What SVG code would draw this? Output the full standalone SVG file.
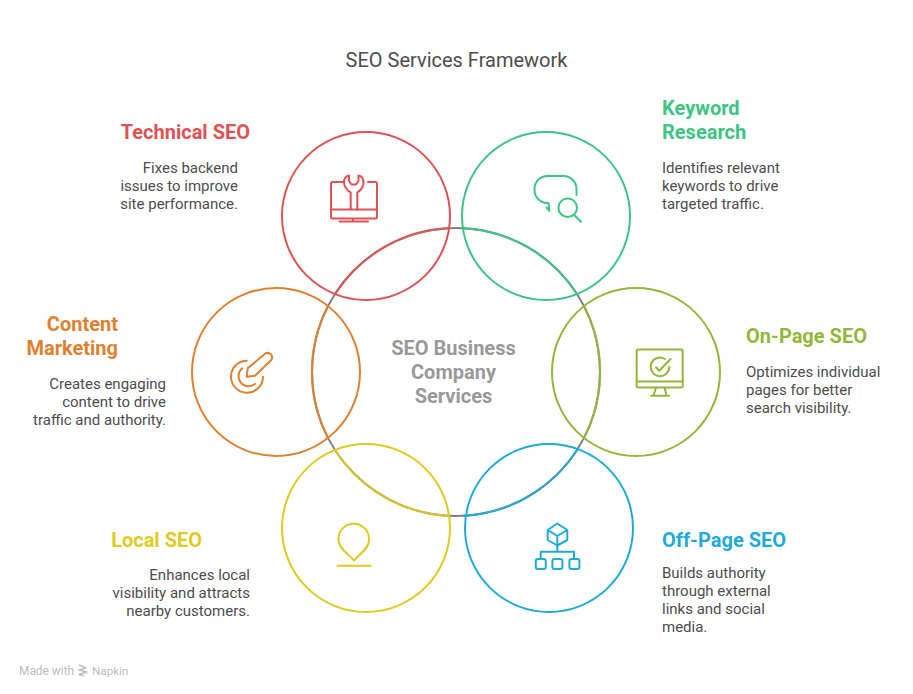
<svg xmlns="http://www.w3.org/2000/svg" width="913" height="694" viewBox="0 0 913 694">
<style>
text{font-family:Roboto,"Liberation Sans",sans-serif}
.t{font-size:20px;font-weight:700}
.b{font-size:15px;fill:#4d4d4d}
.r{text-anchor:end}
.c{fill:none;stroke-width:2}
.i{fill:none;stroke-width:2;stroke-linecap:round;stroke-linejoin:round}
.a{fill:none;stroke-width:2.2;stroke-opacity:.88}
.m{font-size:20px;font-weight:700;fill:#999;text-anchor:middle}
</style>
<rect width="913" height="694" fill="#fff"/>
<text x="456.500" y="67" font-size="20" fill="#4d4d4d" text-anchor="middle">SEO Services Framework</text>
<g id="connectors">
<circle cx="456" cy="372" r="144" fill="none" stroke="#808080" stroke-width="2"/>
<path class="a" stroke="#e05252" d="M335 294A144 144 0 0 1 449 228.200"/>
<path class="a" stroke="#3cc583" d="M463 228.200A144 144 0 0 1 577 294"/>
<path class="a" stroke="#93b73a" d="M584.100 306.200A144 144 0 0 1 584.100 437.800"/>
<path class="a" stroke="#1eabda" d="M577 450A144 144 0 0 1 463 515.800"/>
<path class="a" stroke="#decb1f" d="M449 515.800A144 144 0 0 1 335 450"/>
<path class="a" stroke="#e0812f" d="M327.900 437.800A144 144 0 0 1 327.900 306.200"/>
</g>
<g id="technical-seo">
<circle class="c" cx="366" cy="216" r="84" stroke="#e05252"/>
<g class="i" stroke="#e05252"><path d="M344 182H332.500a1.500 1.500 0 0 0-1.500 1.500V217a1.500 1.500 0 0 0 1.500 1.500H375.500a1.500 1.500 0 0 0 1.500-1.500V183.500A1.500 1.500 0 0 0 375.500 182H368M331 209.500H377M353 218.500V221.500M339.500 221.500H368"/><path d="M350.700 209.500V192.500C346 190 343.500 185 344 181C344.500 178 346 176 349 175.500V181L351.500 184.500H356L358.500 181V175.500C361.500 176 363 178 363.500 181C364 185 362 190 357.300 192.500V209.500"/></g>
<text class="t r" x="250" y="139" fill="#e05252">Technical SEO</text>
<text class="b r" x="238" y="173">Fixes backend</text><text class="b r" x="238" y="191">issues to improve</text><text class="b r" x="238" y="209">site performance.</text>
</g>
<g id="keyword-research">
<circle class="c" cx="546" cy="216" r="84" stroke="#3cc583"/>
<g class="i" stroke="#3cc583"><path d="M576.500 195V189A13 13 0 0 0 563.500 176H547.500A13 13 0 0 0 534.500 189V190A13 13 0 0 0 547.500 203H548.500L549.300 211L546.500 207.500"/><circle cx="567.700" cy="207.700" r="9.300"/><path d="M574 215L581 221.700"/></g>
<text class="t" x="662" y="115" fill="#3cc583">Keyword</text><text class="t" x="662" y="139" fill="#3cc583">Research</text>
<text class="b" x="662" y="173">Identifies relevant</text><text class="b" x="662" y="191">keywords to drive</text><text class="b" x="662" y="209">targeted traffic.</text>
</g>
<g id="on-page-seo">
<circle class="c" cx="636" cy="372" r="84" stroke="#93b73a"/>
<g class="i" stroke="#93b73a"><rect x="636.700" y="349.500" width="46" height="38" rx="1.500"/><path d="M636.700 381.500H682.700M656 387.500L653.500 395.700M664.500 387.500L666.500 395.700M651 395.700H669"/><path d="M669.300 366.700A9.300 9.300 0 1 1 665 359"/><path d="M656 367.300L659.300 370.700L670.700 359"/></g>
<text class="t" x="746" y="343" fill="#93b73a">On-Page SEO</text>
<text class="b" x="746" y="377">Optimizes individual</text><text class="b" x="746" y="395">pages for better</text><text class="b" x="746" y="413">search visibility.</text>
</g>
<g id="off-page-seo">
<circle class="c" cx="549" cy="528" r="84" stroke="#1eabda"/>
<g class="i" stroke="#1eabda"><path d="M557.300 523.500L567.300 530V540L557.300 545.500L547.700 540V530ZM547.700 530L557.300 536L567.300 530M557.300 536V545.500M557.300 545.500V551.700M540.700 558V551.700H574V558"/><rect x="535.800" y="559" width="10" height="10" rx="2"/><rect x="552.400" y="559" width="10" height="10" rx="2"/><rect x="569.400" y="559" width="10" height="10" rx="2"/></g>
<text class="t" x="662" y="547" fill="#1eabda">Off-Page SEO</text>
<text class="b" x="662" y="578">Builds authority</text><text class="b" x="662" y="596">through external</text><text class="b" x="662" y="614">links and social</text><text class="b" x="662" y="632">media.</text>
</g>
<g id="local-seo">
<circle class="c" cx="366" cy="528" r="84" stroke="#decb1f"/>
<g class="i" stroke="#decb1f"><path d="M354 560.700C350 555 338.500 549 338.500 540.300A15.300 15.300 0 1 1 369 540.300C369 549 358 555 354 560.700Z"/><path d="M337.500 565.700H370.500"/></g>
<text class="t r" x="202" y="547" fill="#decb1f">Local SEO</text>
<text class="b r" x="250" y="580">Enhances local</text><text class="b r" x="250" y="598">visibility and attracts</text><text class="b r" x="250" y="616">nearby customers.</text>
</g>
<g id="content-marketing">
<circle class="c" cx="276" cy="372" r="84" stroke="#e0812f"/>
<g class="i" stroke="#e0812f"><path d="M246.700 360.700A16 16 0 1 0 263 376.700"/><path d="M242.300 368.300A10 10 0 1 0 255 384"/><path d="M246.700 376.700L247.700 368.300L265 353.800A4.500 4.500 0 0 1 271.300 360L255 375.700Z"/></g>
<text class="t r" x="118" y="331" fill="#e0812f">Content</text><text class="t r" x="118" y="355" fill="#e0812f">Marketing</text>
<text class="b r" x="166" y="389">Creates engaging</text><text class="b r" x="166" y="407">content to drive</text><text class="b r" x="166" y="425">traffic and authority.</text>
</g>
<g id="center">
<text class="m" x="453.500" y="355">SEO Business</text>
<text class="m" x="453.500" y="379">Company</text>
<text class="m" x="453.500" y="403">Services</text>
</g>
<g id="watermark">
<text x="19" y="674.500" font-size="11.900" fill="#bdbdbd">Made with</text>
<path d="M79 665L86 668L79 670L87 672L79 674.500L84 676" fill="none" stroke="#bdbdbd" stroke-width="1.500" stroke-linejoin="round"/>
<text x="92" y="674.500" font-size="11.700" fill="#bdbdbd">Napkin</text>
</g>
</svg>
